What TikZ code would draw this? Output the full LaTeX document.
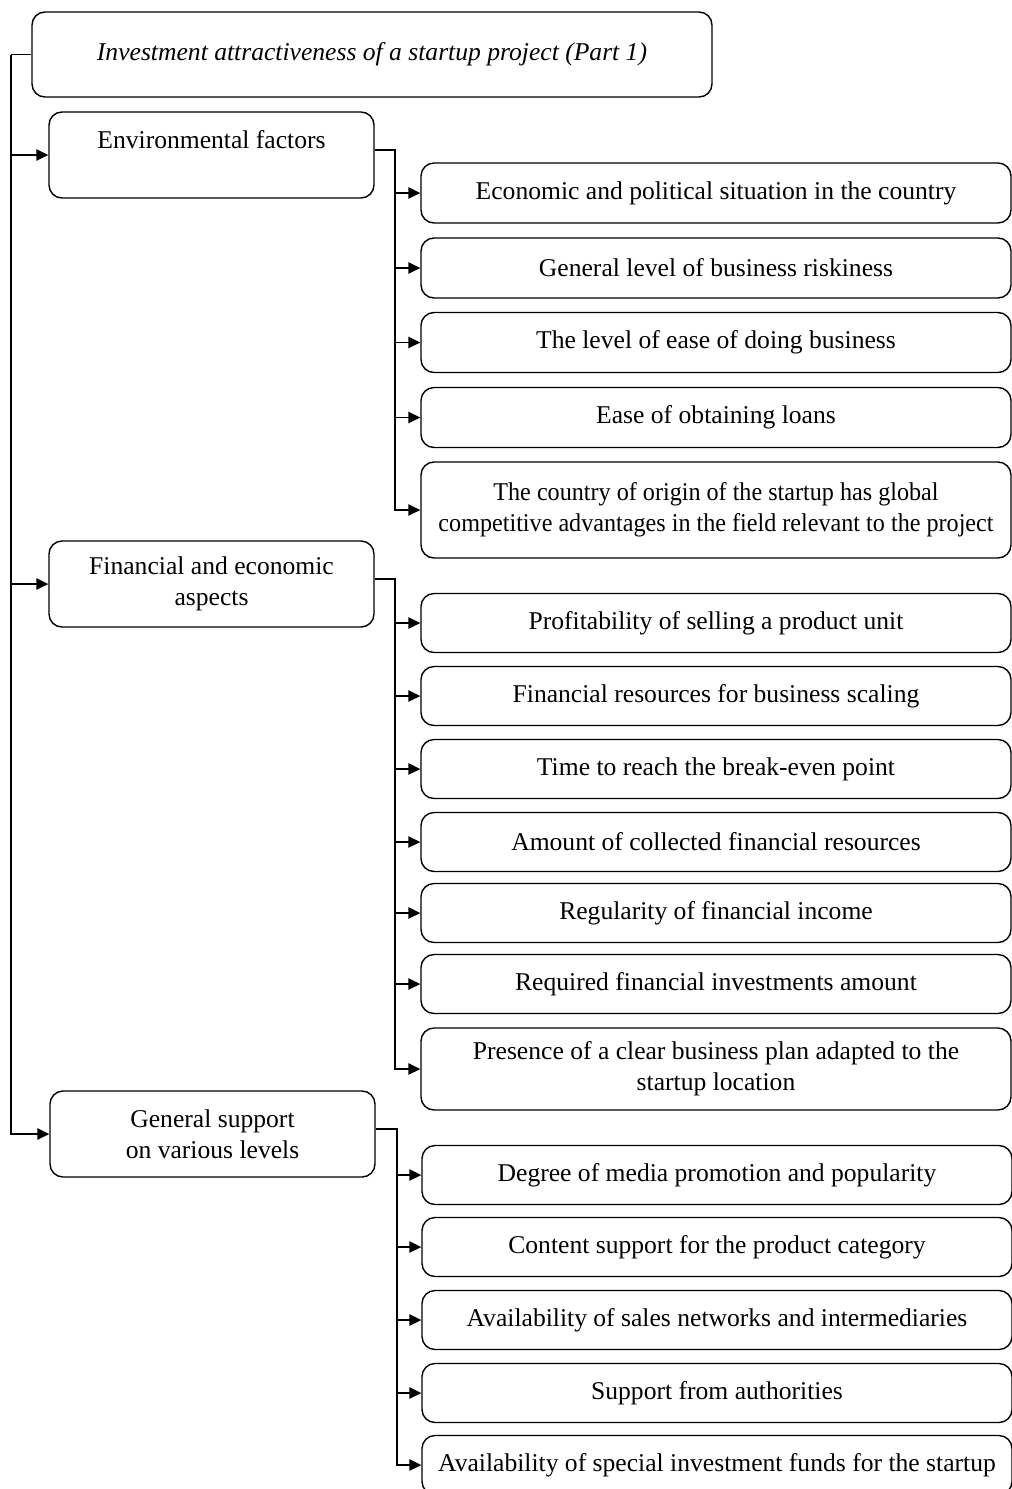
\documentclass[tikz,border=0pt]{standalone}
\usepackage{fontspec}
\setmainfont{Liberation Serif}
\usetikzlibrary{arrows.meta}
\begin{document}
\begin{tikzpicture}[x=1pt,y=-1pt,
  every node/.style={font=\fontsize{25.6}{31}\selectfont},
  box/.style={draw, line width=1.4pt, rounded corners=13pt, align=center, inner sep=0pt},
  leftbox/.style={box, minimum width=325pt, minimum height=86pt},
  rbox/.style={box, minimum width=590pt, minimum height=59pt},
  line/.style={line width=1.4pt},
  arr/.style={line, -{Triangle[length=12pt,width=11.5pt]}}]
\useasboundingbox (0,0) rectangle (1012,1489);

% title and main groups
\node[box, minimum width=680pt, minimum height=85pt, font=\fontsize{25.6}{31}\selectfont\itshape] (title) at (372,54.5) {Investment attractiveness of a startup project (Part 1)};
\node[leftbox] (env) at (211.5,155) {Environmental factors\\\mbox{}};
\node[leftbox] (fin) at (211.5,584) {Financial and economic\\aspects};
\node[leftbox] (gen) at (212.5,1134) {General support\\on various levels};

% environmental children
\node[rbox, minimum height=60pt] (e1) at (716,193) {Economic and political situation in the country};
\node[rbox, minimum height=60pt] (e2) at (716,268) {General level of business riskiness};
\node[rbox, minimum height=60pt] (e3) at (716,342.5) {The level of ease of doing business};
\node[rbox, minimum height=60pt] (e4) at (716,417.5) {Ease of obtaining loans};
\node[rbox, minimum height=96pt] (e5) at (716,510) {\scalebox{0.943}[1]{The country of origin of the startup has global}\\\scalebox{0.943}[1]{competitive advantages in the field relevant to the project}};

% financial children
\node[rbox] (f1) at (716,623) {Profitability of selling a product unit};
\node[rbox] (f2) at (716,696) {Financial resources for business scaling};
\node[rbox] (f3) at (716,769) {Time to reach the break-even point};
\node[rbox] (f4) at (716,842) {Amount of collected financial resources};
\node[rbox] (f5) at (716,913) {Regularity of financial income};
\node[rbox] (f6) at (716,984) {Required financial investments amount};
\node[rbox, minimum height=82pt] (f7) at (716,1069) {Presence of a clear business plan adapted to the\\startup location};

% general support children
\node[rbox] (g1) at (717,1175) {Degree of media promotion and popularity};
\node[rbox] (g2) at (717,1247) {Content support for the product category};
\node[rbox] (g3) at (717,1320) {Availability of sales networks and intermediaries};
\node[rbox] (g4) at (717,1393) {Support from authorities};
\node[rbox] (g5) at (717,1465) {Availability of special investment funds for the startup};

% trunk
\coordinate (tr) at (11,54.5);
\draw[line] (title.west) -- (tr);
\draw[arr] (tr) |- (gen.west);
\draw[arr] (tr |- env.west) -- (env.west);
\draw[arr] (tr |- fin.west) -- (fin.west);

% environmental branch
\coordinate (eb) at (395,0);
\draw[arr] ([yshift=5pt]env.east) -| (eb |- e5.west) -- (e5.west);
\foreach \n in {e1,e2,e3,e4} \draw[arr] (eb |- \n.west) -- (\n.west);

% financial branch
\coordinate (fb) at (395,0);
\draw[arr] ([yshift=5pt]fin.east) -| (fb |- f7.west) -- (f7.west);
\foreach \n in {f1,f2,f3,f4,f5,f6} \draw[arr] (fb |- \n.west) -- (\n.west);

% general branch
\coordinate (gb) at (397,0);
\draw[arr] ([yshift=5pt]gen.east) -| (gb |- g5.west) -- (g5.west);
\foreach \n in {g1,g2,g3,g4} \draw[arr] (gb |- \n.west) -- (\n.west);
\end{tikzpicture}
\end{document}
